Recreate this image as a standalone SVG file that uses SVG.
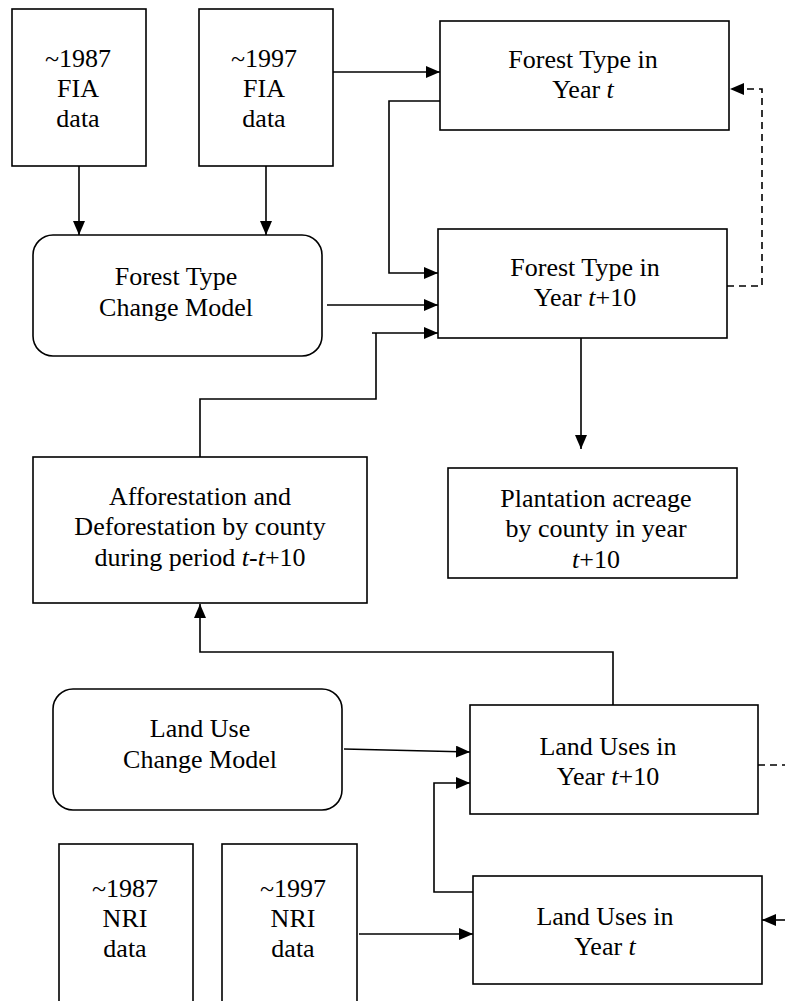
<svg xmlns="http://www.w3.org/2000/svg" width="785" height="1001" viewBox="0 0 785 1001">
<style>
.box{fill:#fff;stroke:#000;stroke-width:1.6}
.c{fill:none;stroke:#000;stroke-width:1.6}
.d{fill:none;stroke:#000;stroke-width:1.6;stroke-dasharray:7 5}
text{font-family:"Liberation Serif","Times New Roman",serif;font-size:26px;fill:#000;text-anchor:middle}
.i{font-style:italic}
</style>
<defs>
<marker id="ah" markerUnits="userSpaceOnUse" markerWidth="14" markerHeight="12" viewBox="0 0 14 12" refX="14" refY="6" orient="auto">
<path d="M0,0 L14,6 L0,12 z" fill="#000"/>
</marker>
</defs>
<rect width="785" height="1001" fill="#fff"/>
<g id="connectors">
<path class="c" d="M79,166 V235" marker-end="url(#ah)"/>
<path class="c" d="M266,166 V235" marker-end="url(#ah)"/>
<path class="c" d="M333,72 H440" marker-end="url(#ah)"/>
<path class="c" d="M440,101 H389 V273 H438" marker-end="url(#ah)"/>
<path class="c" d="M327,305 H438" marker-end="url(#ah)"/>
<path class="c" d="M200,457 V399 H376 V333 H372 M376,333 H438" marker-end="url(#ah)"/>
<path class="c" d="M581,338 V449" marker-end="url(#ah)"/>
<path class="d" d="M727,286 H762 V89 H730" marker-end="url(#ah)"/>
<path class="c" d="M613,705 V652 H200 V604" marker-end="url(#ah)"/>
<path class="c" d="M344,749 L470,752" marker-end="url(#ah)"/>
<path class="c" d="M473,892 H434 V783 H470" marker-end="url(#ah)"/>
<path class="c" d="M359,934 H473" marker-end="url(#ah)"/>
<path class="d" d="M758,765 H785"/>
<path class="c" d="M785,920 H762" marker-end="url(#ah)"/>
</g>
<g id="fia1987">
<rect class="box" x="12" y="9" width="134" height="157"/>
<text x="78" y="67">~1987</text><text x="78" y="97">FIA</text><text x="78" y="127">data</text>
</g>
<g id="fia1997">
<rect class="box" x="199" y="9" width="134" height="157"/>
<text x="264" y="67">~1997</text><text x="264" y="97">FIA</text><text x="264" y="127">data</text>
</g>
<g id="forest-t">
<rect class="box" x="440" y="21" width="289" height="109"/>
<text x="583" y="68">Forest Type in</text><text x="583" y="98">Year <tspan class="i">t</tspan></text>
</g>
<g id="forest-t10">
<rect class="box" x="438" y="229" width="289" height="109"/>
<text x="585" y="276">Forest Type in</text><text x="585" y="306">Year <tspan class="i">t</tspan>+10</text>
</g>
<g id="forest-model">
<rect class="box" x="33" y="235" width="289" height="121" rx="20"/>
<text x="176" y="285">Forest Type</text><text x="176" y="316">Change Model</text>
</g>
<g id="affor">
<rect class="box" x="33" y="457" width="334" height="146"/>
<text x="200" y="505">Afforestation and</text><text x="200" y="535">Deforestation by county</text><text x="200" y="566">during period <tspan class="i">t</tspan>-<tspan class="i">t</tspan>+10</text>
</g>
<g id="plantation">
<rect class="box" x="448" y="468" width="289" height="110"/>
<text x="596" y="507">Plantation acreage</text><text x="596" y="537">by county in year</text><text x="596" y="568"><tspan class="i">t</tspan>+10</text>
</g>
<g id="land-model">
<rect class="box" x="53" y="689" width="289" height="121" rx="20"/>
<text x="200" y="737">Land Use</text><text x="200" y="768">Change Model</text>
</g>
<g id="land-t10">
<rect class="box" x="470" y="705" width="288" height="109"/>
<text x="608" y="755">Land Uses in</text><text x="608" y="785">Year <tspan class="i">t</tspan>+10</text>
</g>
<g id="land-t">
<rect class="box" x="473" y="876" width="289" height="108"/>
<text x="605" y="925">Land Uses in</text><text x="605" y="955">Year <tspan class="i">t</tspan></text>
</g>
<g id="nri1987">
<rect class="box" x="59" y="844" width="134" height="180"/>
<text x="125" y="897">~1987</text><text x="125" y="927">NRI</text><text x="125" y="957">data</text>
</g>
<g id="nri1997">
<rect class="box" x="222" y="844" width="135" height="180"/>
<text x="293" y="897">~1997</text><text x="293" y="927">NRI</text><text x="293" y="957">data</text>
</g>
</svg>
